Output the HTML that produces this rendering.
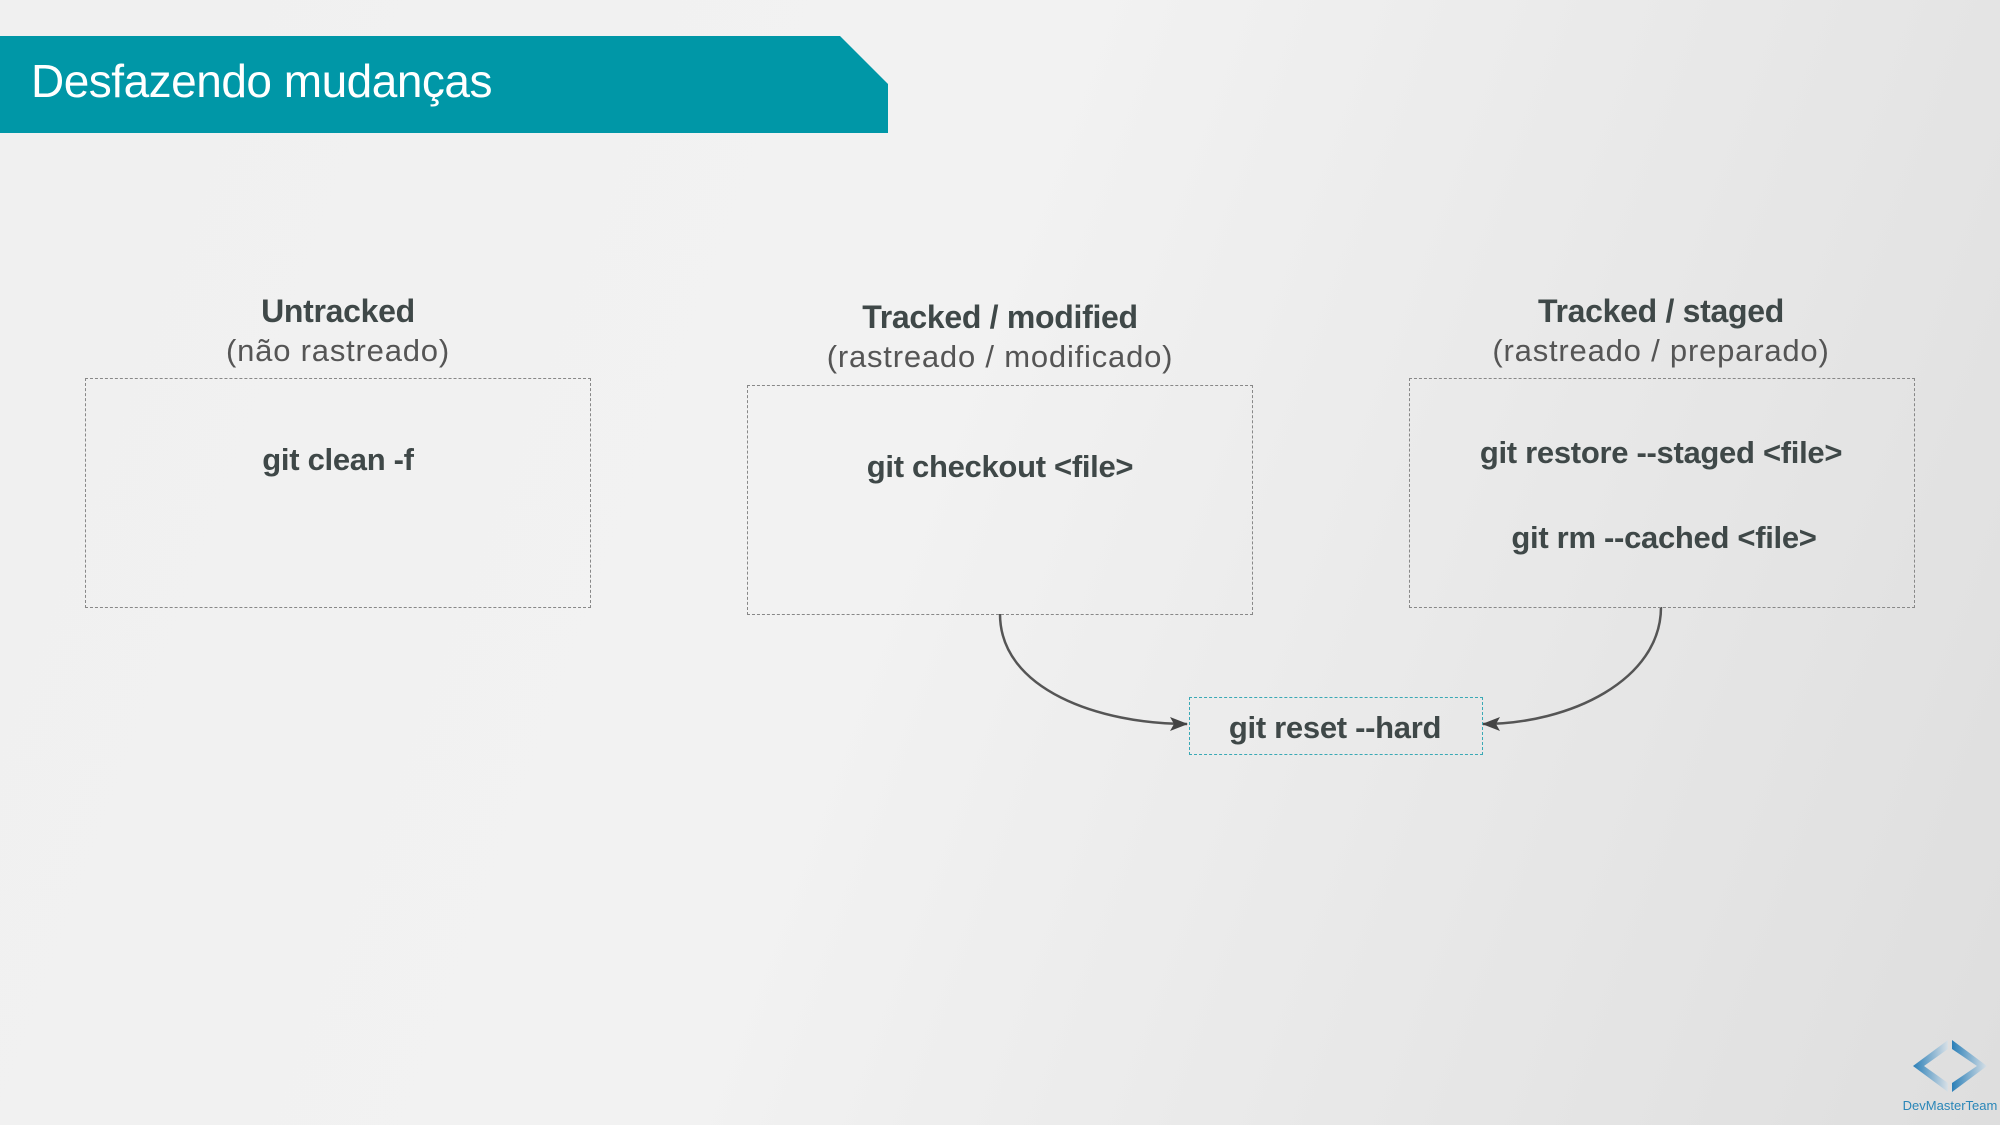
<!DOCTYPE html>
<html><head><meta charset="utf-8"><style>
body{margin:0;width:2000px;height:1125px;overflow:hidden;background:linear-gradient(110deg,#f0f0f0 0%,#f2f2f2 45%,#dedede 100%);font-family:"Liberation Sans",sans-serif;position:relative}
.t{position:absolute;transform:translateX(-50%);white-space:nowrap;color:#3f4848;text-align:center}
.h{font-weight:bold;font-size:32px;letter-spacing:-0.3px}
.s{font-size:31px;color:#555;letter-spacing:0.8px}
.c{font-weight:bold;font-size:31px;letter-spacing:-0.3px}
.box{position:absolute;border:1.5px dashed #888}
</style></head><body>
<svg width="2000" height="1125" style="position:absolute;left:0;top:0">
<polygon points="0,36 840,36 888,84 888,133 0,133" fill="#0097a7"/>
<defs><marker id="a" markerWidth="18" markerHeight="14" refX="17" refY="7" orient="auto" markerUnits="userSpaceOnUse"><polygon points="0,0 18,7 0,14 4,7" fill="#444"/></marker>
<linearGradient id="g1" x1="0" x2="1"><stop offset="0" stop-color="#2a7fb8"/><stop offset="1" stop-color="#d8e0e6"/></linearGradient>
<linearGradient id="g2" x1="0" x2="1"><stop offset="0" stop-color="#2a7fb8"/><stop offset="1" stop-color="#d8e0e6"/></linearGradient></defs>
<path d="M1000,614 C1000,690 1100,724 1187,724" fill="none" stroke="#555" stroke-width="2.5" marker-end="url(#a)"/>
<path d="M1661,607 C1661,680 1570,724 1483,724" fill="none" stroke="#555" stroke-width="2.5" marker-end="url(#a)"/>
<polygon points="1948,1040 1913,1066 1948,1092 1948,1083 1924,1066 1948,1049" fill="url(#g1)"/>
<polygon points="1952,1040 1987,1066 1952,1092 1952,1083 1977,1066 1952,1049" fill="url(#g2)"/>
<text x="1950" y="1110" font-size="13" fill="#2a86b8" text-anchor="middle" font-family="Liberation Sans Narrow, Liberation Sans, sans-serif">DevMasterTeam</text>
</svg>
<div style="position:absolute;left:31px;top:54px;font-size:46px;color:#fff;letter-spacing:-0.5px">Desfazendo mudanças</div>
<div class="box" style="left:85px;top:378px;width:504px;height:228px"></div>
<div class="box" style="left:747px;top:385px;width:504px;height:228px"></div>
<div class="box" style="left:1409px;top:378px;width:504px;height:228px"></div>
<div class="box" style="left:1189px;top:697px;width:292px;height:56px;border-color:#3aa9b5"></div>
<div class="t h" style="left:338px;top:293px">Untracked</div>
<div class="t s" style="left:338px;top:333px">(não rastreado)</div>
<div class="t h" style="left:1000px;top:299px">Tracked / modified</div>
<div class="t s" style="left:1000px;top:339px">(rastreado / modificado)</div>
<div class="t h" style="left:1661px;top:293px">Tracked / staged</div>
<div class="t s" style="left:1661px;top:333px">(rastreado / preparado)</div>
<div class="t c" style="left:338px;top:442px">git clean -f</div>
<div class="t c" style="left:1000px;top:449px">git checkout &lt;file&gt;</div>
<div class="t c" style="left:1661px;top:435px">git restore --staged &lt;file&gt;</div>
<div class="t c" style="left:1664px;top:520px">git rm --cached &lt;file&gt;</div>
<div class="t c" style="left:1335px;top:710px">git reset --hard</div>
</body></html>
